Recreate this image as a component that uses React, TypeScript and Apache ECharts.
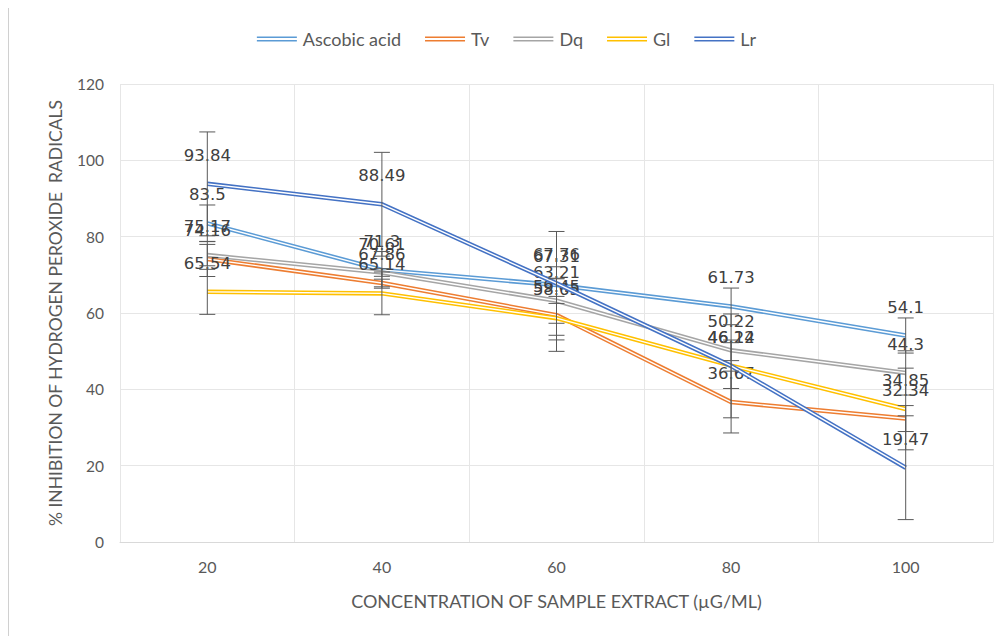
import React, { useEffect, useRef } from "react";
import * as echarts from "echarts";

const categories = ["20", "40", "60", "80", "100"];
const seriesNames = ["Ascobic acid", "Tv", "Dq", "Gl", "Lr"];
const ascorbic = [83.5, 71.3, 67.31, 61.73, 54.1];
const tv = [74.16, 67.86, 59.45, 36.67, 32.34];
const dq = [75.17, 70.61, 63.21, 50.22, 44.3];
const gl = [65.54, 65.14, 58.65, 46.22, 34.85];
const lr = [93.84, 88.49, 67.76, 46.14, 19.47];
const ascorbicErr = [4.8, 4.8, 4.8, 4.8, 4.6];
const tvErr = [4.6, 1.0, 9.5, 8.1, 3.4];
const dqErr = [2.8, 1.0, 5.9, 2.7, 5.8];
const glErr = [5.9, 5.6, 5.7, 6.0, 10.7];
const lrErr = [13.6, 13.6, 13.6, 13.6, 13.6];
const yTicks = [0, 20, 40, 60, 80, 100, 120];

const colors = ["#5B9BD5", "#ED7D31", "#A5A5A5", "#FFC000", "#4472C4"];
const allValues = [ascorbic, tv, dq, gl, lr];
const allErrors = [ascorbicErr, tvErr, dqErr, glErr, lrErr];

const FONT = "Lato, 'Open Sans', sans-serif";

export default function App() {
  const ref = useRef<HTMLDivElement>(null);
  useEffect(() => {
    if (!ref.current) return;
    const chart = echarts.init(ref.current, null, { renderer: "svg" });
    const series: any[] = [];
    allValues.forEach((vals, i) => {
      series.push({
        name: seriesNames[i],
        type: "line",
        data: vals,
        symbol: "circle",
        symbolSize: 0,
        showSymbol: true,
        lineStyle: { color: colors[i], width: 4.5 },
        itemStyle: { color: colors[i] },
        label: {
          show: true,
          position: "top",
          distance: 20,
          fontFamily: "'DejaVu Sans', sans-serif",
          fontSize: 16.5,
          color: "#404040",
        },
        labelLayout: { hideOverlap: false },
        z: 2 + i * 2,
      });
      series.push({
        name: seriesNames[i] + "_gap",
        type: "line",
        data: vals,
        symbol: "none",
        lineStyle: { color: "#ffffff", width: 1.4 },
        silent: true,
        z: 3 + i * 2,
      });
    });
    const errData: number[][] = [];
    allValues.forEach((vals, i) => {
      vals.forEach((v, j) => {
        errData.push([j, v - allErrors[i][j], v + allErrors[i][j]]);
      });
    });
    series.push({
      name: "err",
      type: "custom",
      z: 20,
      silent: true,
      data: errData,
      encode: { x: 0, y: [1, 2] },
      renderItem: (params: any, api: any) => {
        const x = api.value(0);
        const lo = api.value(1);
        const hi = api.value(2);
        const p1 = api.coord([x, hi]);
        const p2 = api.coord([x, lo]);
        const w = 8;
        const st = { stroke: "#595959", lineWidth: 1 };
        return {
          type: "group",
          children: [
            { type: "line", shape: { x1: p1[0], y1: p1[1], x2: p2[0], y2: p2[1] }, style: st },
            { type: "line", shape: { x1: p1[0] - w, y1: p1[1], x2: p1[0] + w, y2: p1[1] }, style: st },
            { type: "line", shape: { x1: p2[0] - w, y1: p2[1], x2: p2[0] + w, y2: p2[1] }, style: st },
          ],
        };
      },
    });
    chart.setOption({
      animation: false,
      backgroundColor: "#ffffff",
      color: colors,
      legend: {
        data: seriesNames.map((n, i) => ({ name: n, itemStyle: { color: colors[i], opacity: 1 } })),
        top: 17,
        left: "center",
        icon: "path://M0,0H40V1.6H0Z M0,3.4H40V5H0Z",
        itemWidth: 42,
        itemHeight: 5,
        itemGap: 24,
        textStyle: { fontFamily: FONT, fontSize: 18, color: "#595959" },
      },
      grid: { left: 112, right: 12, top: 76, bottom: 94 },
      xAxis: {
        type: "category",
        data: categories,
        boundaryGap: true,
        axisLine: { lineStyle: { color: "#d9d9d9" } },
        axisTick: { show: false },
        splitLine: { show: true, lineStyle: { color: "#e6e6e6" } },
        axisLabel: { fontFamily: FONT, fontSize: 16, color: "#595959", margin: 16 },
        name: "CONCENTRATION OF SAMPLE EXTRACT (µG/ML)",
        nameLocation: "middle",
        nameGap: 50,
        nameTextStyle: { fontFamily: FONT, fontSize: 18, color: "#595959" },
      },
      yAxis: {
        type: "value",
        min: yTicks[0],
        max: yTicks[yTicks.length - 1],
        interval: 20,
        axisLine: { show: false },
        axisTick: { show: false },
        splitLine: { lineStyle: { color: "#e6e6e6" } },
        axisLabel: { fontFamily: FONT, fontSize: 15.5, color: "#595959", margin: 16 },
        name: "% INHIBITION OF HYDROGEN PEROXIDE  RADICALS",
        nameLocation: "middle",
        nameGap: 56,
        nameTextStyle: { fontFamily: FONT, fontSize: 17.5, color: "#595959" },
      },
      graphic: [
        {
          type: "line",
          shape: { x1: 0.5, y1: 0, x2: 0.5, y2: 636 },
          style: { stroke: "#d0d0d0", lineWidth: 1 },
        },
      ],
      series,
    });
    return () => chart.dispose();
  }, []);
  return <div ref={ref} style={{ width: 997, height: 628 }} />;
}
